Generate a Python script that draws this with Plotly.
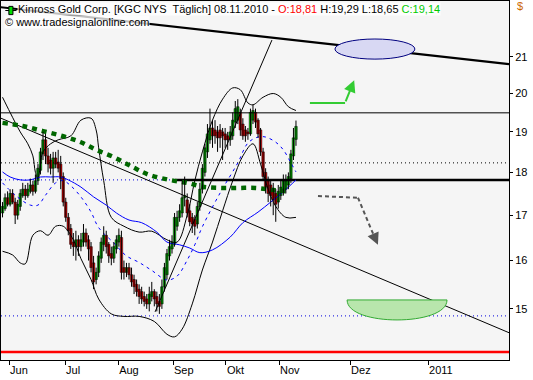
import math
import plotly.graph_objects as go

# ---------------- data ----------------
opens = [17.05,17.15,17.4,17.25,17.5,17.3,17.0,17.2,17.45,17.6,17.45,17.55,17.7,17.55,17.8,
         18.05,18.45,18.8,18.4,18.3,18.1,18.35,18.25,18.2,17.9,17.3,16.95,16.7,16.4,16.3,
         16.45,16.3,16.4,16.6,16.45,16.3,15.95,15.6,15.75,16.05,16.35,16.55,16.35,16.15,16.05,
         16.25,16.4,16.5,15.85,15.75,15.85,15.7,15.6,15.5,15.4,15.35,15.25,15.2,15.1,15.25,
         15.35,15.25,15.15,15.1,15.45,15.7,16.1,16.25,16.35,16.75,16.95,17.05,17.4,17.35,17.1,
         16.95,16.9,16.8,17.2,17.6,18.0,18.5,18.8,19.1,19.05,19.0,19.05,19.0,18.95,18.9,
         18.8,18.9,19.25,19.3,19.5,19.2,19.05,19.0,18.95,19.3,19.5,19.3,19.05,18.5,18.0,
         17.8,17.7,17.6,17.5,17.3,17.45,17.55,17.6,17.7,17.85,18.4,18.81]
highs = [17.3,17.5,17.55,17.6,17.6,17.4,17.35,17.6,17.75,17.7,17.75,17.85,17.8,17.95,18.2,
         18.6,19.0,18.95,18.6,18.45,18.5,18.5,18.55,18.4,18.0,17.4,17.05,16.8,16.6,16.65,
         16.55,16.6,16.8,16.7,16.55,16.4,16.1,15.85,16.2,16.5,16.75,16.65,16.4,16.3,16.4,
         16.55,16.7,16.65,16.0,15.95,15.95,15.85,15.7,15.6,15.5,15.45,15.35,15.3,15.45,15.55,
         15.4,15.35,15.3,15.6,15.95,16.25,16.45,16.55,17.05,17.1,17.25,17.8,17.9,17.5,17.25,
         17.05,17.0,17.3,17.75,18.2,18.7,19.2,19.6,19.3,19.3,19.15,19.2,19.1,19.1,19.0,
         19.15,19.5,19.8,19.85,19.6,19.35,19.15,19.1,19.6,19.7,19.6,19.35,19.1,18.6,18.1,
         17.9,17.8,17.75,17.6,17.7,17.8,17.95,17.95,18.0,18.55,19.1,19.29]
lows = [16.95,17.1,17.2,17.2,17.25,16.8,16.9,17.1,17.4,17.35,17.4,17.5,17.45,17.5,17.7,
        17.95,18.3,18.2,18.0,17.95,17.75,18.1,18.0,17.6,17.2,16.85,16.55,16.25,16.1,16.0,
        16.1,16.2,16.3,16.3,16.0,15.75,15.4,15.5,15.65,15.95,16.2,16.15,15.95,15.9,15.95,
        16.15,16.3,15.6,15.6,15.65,15.6,15.45,15.3,15.25,15.1,15.1,15.05,15.0,14.95,15.15,
        15.05,14.95,14.9,15.0,15.35,15.6,16.0,16.15,16.3,16.65,16.85,16.95,17.2,16.95,16.75,
        16.6,16.55,16.7,17.1,17.5,17.9,18.35,18.7,18.6,18.7,18.5,18.6,18.3,18.6,18.55,
        18.65,18.8,19.1,19.2,18.9,18.8,18.75,18.8,18.9,19.2,19.1,18.85,18.4,17.8,17.5,
        17.3,17.2,17.0,16.85,17.15,17.35,17.45,17.5,17.6,17.75,18.3,18.65]
closes = [17.2,17.4,17.25,17.5,17.3,17.0,17.25,17.5,17.6,17.45,17.6,17.7,17.55,17.8,18.1,
          18.5,18.8,18.4,18.2,18.1,18.35,18.2,18.1,17.85,17.3,16.95,16.65,16.35,16.3,16.45,
          16.3,16.45,16.6,16.4,16.25,15.85,15.55,15.75,16.1,16.4,16.55,16.3,16.1,16.05,16.3,
          16.45,16.55,15.75,15.75,15.85,15.7,15.55,15.45,15.35,15.25,15.2,15.15,15.1,15.3,15.35,
          15.2,15.1,15.05,15.45,15.85,16.15,16.3,16.4,16.95,16.95,17.1,17.4,17.45,17.05,16.85,
          16.8,16.75,17.2,17.6,18.1,18.6,18.95,19.1,18.9,18.9,18.85,18.85,18.9,18.8,18.8,
          19.0,19.3,19.6,19.65,19.05,18.9,18.9,18.95,19.5,19.55,19.25,18.95,18.5,17.9,17.65,
          17.5,17.45,17.35,17.25,17.55,17.65,17.8,17.8,17.9,18.45,18.85,19.14]

# indicator lines, sampled (bar index, value)
sma200_idx = [0,8,16,24,31,37,44,52,58,66,73,79,86,93,100,107,114]
sma200_val = [19.23,19.15,19.02,18.89,18.74,18.55,18.37,18.11,17.94,17.82,17.75,17.66,17.63,17.63,17.63,17.58,17.54]

sma50_idx = [0,3,7,11,15,19,23,26,31,36,41,45,50,55,61,65,70,74,78,83,90,95,101,106,111,116]
sma50_val = [18.01,17.89,17.82,17.82,17.89,17.89,17.89,17.82,17.65,17.42,17.23,17.05,16.89,16.83,
             16.62,16.40,16.34,16.27,16.17,16.23,16.51,16.83,17.07,17.30,17.54,17.82]

sma20_idx = [0,5,11,14,17,21,24,27,31,35,38,44,49,54,59,65,69,73,76,79,86,93,97,101,104,108,111,114,116]
sma20_val = [17.75,17.46,17.23,17.23,17.46,17.75,17.80,17.68,17.42,17.07,16.72,16.38,16.10,15.96,
             15.79,15.59,15.67,16.01,16.34,16.74,17.51,18.23,18.72,18.87,18.87,18.74,18.55,18.23,18.01]

bb_up_idx = [0,3,7,10,12,13,14,15,16,19,22,27,31,35,37,38,40,43,48,54,59,65,69,73,76,79,83,87,91,94,97,
             99,103,107,110,113,116]
bb_up_val = [19.9,19.5,19.0,18.7,18.4,18.0,17.85,18.2,18.5,18.7,18.8,18.9,19.3,19.35,19.05,18.6,
             17.8,16.95,16.75,16.62,16.64,16.45,16.4,17.0,17.8,18.5,19.3,19.85,20.15,20.1,19.75,
             19.7,19.9,20.0,19.9,19.65,19.55]

bb_lo_idx = [0,4,7,9,12,15,18,21,24,28,31,35,38,43,48,54,60,65,68,71,75,79,83,87,91,95,99,102,105,108,112,116]
bb_lo_val = [16.2,16.12,15.95,15.93,16.55,16.65,16.55,16.75,16.75,16.45,16.04,15.6,15.2,14.9,14.85,
             14.85,14.75,14.5,14.45,14.6,15.1,15.8,16.4,17.1,17.8,18.4,18.7,18.2,17.6,17.2,16.95,16.95]

# horizontal levels
level_thin = 19.49
level_dotted = 18.23
level_thick = 17.82
level_blue_low = 14.86
level_red = 14.16

# trendlines: (index0, price0, index1, price1)
trend_thick = (-1.6, 22.45, 200.2, 20.80)
trend_thin = (-0.6, 19.35, 200.2, 14.53)
trend_steep = (60.3, 14.94, 106.5, 21.48)

# month ticks (bar-index position) and labels
month_pos = [2.6, 24.7, 45.7, 67.4, 88.3, 109.3, 137.4, 168.2]
month_lbl = ["Jun", "Jul", "Aug", "Sep", "Okt", "Nov", "Dez", "2011"]

ytick_vals = [15, 16, 17, 18, 19, 20, 21]

N = len(closes)
idx = list(range(N))
L = math.log10

X0, X1 = -0.6, 200.2
Y0, Y1 = 14.01, 22.63

fig = go.Figure()

def line(xs, ys, color, width, dash="solid", shape="linear"):
    fig.add_trace(go.Scatter(x=xs, y=ys, mode="lines", hoverinfo="skip", showlegend=False,
                             line=dict(color=color, width=width, dash=dash, shape=shape)))

# horizontal levels
line([X0, X1], [level_red, level_red], "#ff0000", 2.5)
line([X0, X1], [level_blue_low, level_blue_low], "#0000dd", 1, "1px,3px")
line([X0, X1], [level_thin, level_thin], "#000000", 1)
line([X0, X1], [level_dotted, level_dotted], "#000000", 1, "1px,3px")
line([X0, 68.2], [level_thick, level_thick], "#0000dd", 1, "1px,3px")
line([68.2, X1], [level_thick, level_thick], "#000000", 2.5)

# trendlines
for (a, pa, b, pb), w in [(trend_thick, 2.2), (trend_thin, 1), (trend_steep, 1)]:
    line([a, b], [pa, pb], "#000000", w)

# indicators
line(bb_up_idx, bb_up_val, "#000000", 1, shape="spline")
line(bb_lo_idx, bb_lo_val, "#000000", 1, shape="spline")
line(sma50_idx, sma50_val, "#0000ff", 1, shape="spline")
line(sma20_idx, sma20_val, "#0000ff", 1, "3px,4px", shape="spline")
line(sma200_idx, sma200_val, "#006600", 4.5, "5px,5px", shape="spline")

# candles: wicks + bodies
wx, wy = [], []
for i in idx:
    wx += [i, i, None]
    wy += [lows[i], highs[i], None]
fig.add_trace(go.Scatter(x=wx, y=wy, mode="lines", line=dict(color="#000000", width=1),
                         hoverinfo="skip", showlegend=False))
up = [i for i in idx if closes[i] >= opens[i]]
dn = [i for i in idx if closes[i] < opens[i]]
fig.add_trace(go.Bar(x=up, base=[opens[i] for i in up], y=[closes[i] - opens[i] for i in up],
                     width=1.0, marker=dict(color="#00dd00", line=dict(color="#000000", width=0.5)),
                     hoverinfo="skip", showlegend=False))
fig.add_trace(go.Bar(x=dn, base=[closes[i] for i in dn], y=[opens[i] - closes[i] for i in dn],
                     width=1.0, marker=dict(color="#ff0000", line=dict(color="#000000", width=0.5)),
                     hoverinfo="skip", showlegend=False))

shapes = []
# blue ellipse
shapes.append(dict(type="circle", xref="x", yref="y", x0=131.4, x1=163.0, y0=20.94, y1=21.51,
                   fillcolor="#d8d8f3", line=dict(color="#000080", width=1), layer="above"))
# green half ellipse (bottom half)
gx0, gx1, gt, gb = 136.2, 175.7, 15.18, 14.78
cy = 10 ** (L(gt) - 4 / 3 * (L(gt) - L(gb)))
shapes.append(dict(type="path", xref="x", yref="y",
                   path=f"M {gx0},{gt} C {gx0},{cy} {gx1},{cy} {gx1},{gt} Z",
                   fillcolor="#b8e6ac", line=dict(color="#33aa33", width=1), layer="above"))
# green arrow shaft
shapes.append(dict(type="line", xref="x", yref="y", x0=121.5, x1=135.4, y0=19.75, y1=19.75,
                   line=dict(color="#33cc33", width=2)))
# gray dashed arrow shafts
shapes.append(dict(type="line", xref="x", yref="y", x0=124.7, x1=140.5, y0=17.44, y1=17.40,
                   line=dict(color="#555555", width=2, dash="4px,3px")))
shapes.append(dict(type="line", xref="x", yref="y", x0=140.5, x1=146.5, y0=17.40, y1=16.58,
                   line=dict(color="#555555", width=2, dash="4px,3px")))
# legend icon
shapes.append(dict(type="line", xref="paper", yref="paper", x0=0.0085, x1=0.0305, y0=0.9735, y1=0.9735,
                   line=dict(color="#000000", width=1)))
shapes.append(dict(type="rect", xref="paper", yref="paper", x0=0.0155, x1=0.0235, y0=0.962, y1=0.985,
                   fillcolor="#00dd00", line=dict(color="#000000", width=1)))

annotations = []
# arrow heads
annotations.append(dict(x=139.0, y=L(20.36), ax=135.4, ay=L(19.75), xref="x", yref="y", axref="x", ayref="y",
                        text="", showarrow=True, arrowhead=2, arrowsize=1.2, arrowwidth=2, arrowcolor="#33cc33"))
annotations.append(dict(x=148.4, y=L(16.34), ax=146.5, ay=L(16.58), xref="x", yref="y", axref="x", ayref="y",
                        text="", showarrow=True, arrowhead=2, arrowsize=1.2, arrowwidth=2, arrowcolor="#555555"))
FONT = "Liberation Sans"
header = ("Kinross Gold Corp. [KGC NYS  Täglich] 08.11.2010 - "
          "<span style='color:#ff0000'>O:18,81</span> H:19,29 L:18,65 "
          "<span style='color:#00cc00'>C:19,14</span>")
annotations.append(dict(x=0.032, y=0.997, xref="paper", yref="paper", xanchor="left", yanchor="top",
                        text=header, showarrow=False, font=dict(family=FONT, size=11, color="#000000"),
                        bgcolor="rgba(255,255,255,0.75)", borderpad=0))
annotations.append(dict(x=0.006, y=0.962, xref="paper", yref="paper", xanchor="left", yanchor="top",
                        text="© www.tradesignalonline.com", showarrow=False,
                        font=dict(family=FONT, size=11, color="#000000"),
                        bgcolor="rgba(255,255,255,0.75)", borderpad=0))
annotations.append(dict(x=1.011, y=0.985, xref="paper", yref="paper", xanchor="left", yanchor="middle",
                        text="$", showarrow=False, font=dict(family=FONT, size=11, color="#cc6600")))

fig.update_layout(
    width=533, height=380, margin=dict(l=1, r=24, t=1, b=20),
    paper_bgcolor="#ffffff", plot_bgcolor="#f5f5f5", barmode="overlay",
    font=dict(family=FONT, size=11, color="#000000"),
    showlegend=False, shapes=shapes, annotations=annotations,
    xaxis=dict(range=[X0, X1], tickvals=month_pos, ticktext=month_lbl, ticks="outside", ticklen=4,
               tickcolor="#000000", ticklabelposition="outside right", showgrid=False, zeroline=False,
               showline=True, mirror=True, linecolor="#000000", linewidth=1, tickfont=dict(size=11)),
    yaxis=dict(type="log", range=[L(Y0), L(Y1)], side="right", tickvals=ytick_vals,
               ticktext=[str(v) for v in ytick_vals], ticks="outside", ticklen=3, tickcolor="#000000",
               showgrid=False, zeroline=False, showline=True, mirror=True, linecolor="#000000",
               linewidth=1, tickfont=dict(size=11)),
)

fig.write_html("out.html")
